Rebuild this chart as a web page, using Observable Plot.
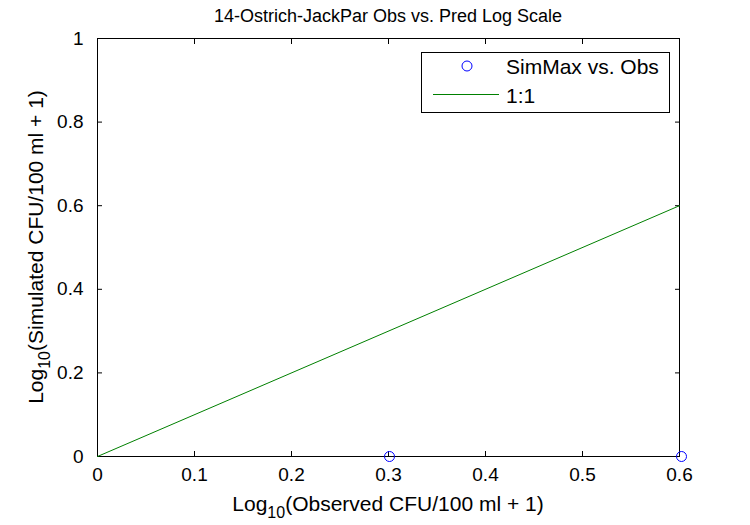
<!DOCTYPE html>
<html><head><meta charset="utf-8">
<script src="https://cdn.jsdelivr.net/npm/d3@7"></script>
<script src="https://cdn.jsdelivr.net/npm/@observablehq/plot@0.6"></script>
<style>
body{margin:0;background:#fff;font-family:"Liberation Sans",Arial,sans-serif;}
#wrap{position:relative;width:750px;height:525px;}
</style></head><body>
<div id="wrap"></div>
<script>
const title = "14-Ostrich-JackPar Obs vs. Pred Log Scale";
const xTicks = [0, 0.1, 0.2, 0.3, 0.4, 0.5, 0.6];
const yTicks = [0, 0.2, 0.4, 0.6, 0.8, 1];
const obs = [0.30103, 0.60206];
const sim = [0, 0];
const oneToOneX = [0, 0.6];
const oneToOneY = [0, 0.6];
const legendLabels = ["SimMax vs. Obs", "1:1"];

const pts = obs.map((o, i) => ({x: o, y: sim[i]}));
const line = oneToOneX.map((v, i) => ({x: v, y: oneToOneY[i]}));

const W = 750, H = 525, mL = 97, mR = 71, mT = 38, mB = 69;
const fmt = d => d === 0 ? "0" : (d === 1 ? "1" : String(d));
const ff = '"Liberation Sans", Arial, sans-serif';

const chart = Plot.plot({
  width: W, height: H,
  marginLeft: mL, marginRight: mR, marginTop: mT, marginBottom: mB,
  style: {fontFamily: ff, fontSize: "19px", background: "#fff", color: "#000"},
  x: {domain: [0, 0.6], label: null},
  y: {domain: [0, 1], label: null},
  marks: [
    Plot.frame({stroke: "#000", strokeWidth: 1}),
    Plot.axisX({anchor: "bottom", ticks: xTicks, tickSize: -5, tickPadding: 16, tickFormat: fmt, label: null, fontSize: 19}),
    Plot.axisX({anchor: "top", ticks: xTicks, tickSize: -5, text: null, label: null}),
    Plot.axisY({anchor: "left", ticks: yTicks, tickSize: -5, tickPadding: 19, tickFormat: fmt, label: null, fontSize: 19}),
    Plot.axisY({anchor: "right", ticks: yTicks, tickSize: -5, text: null, label: null}),
    Plot.line(line, {x: "x", y: "y", stroke: "#008000", strokeWidth: 1}),
    Plot.dot(pts, {x: "x", y: "y", r: 5, stroke: "#0000ff", fill: "none", strokeWidth: 1, clip: false})
  ]
});
document.getElementById("wrap").appendChild(chart);

const svg = d3.select(chart);
svg.selectAll("text").attr("font-size", 19).style("font-size", "19px").style("font-family", ff);

svg.append("text").attr("x", (mL + W - mR) / 2).attr("y", 22).attr("text-anchor", "middle")
  .attr("font-size", 18).attr("font-family", ff).attr("fill", "#000").text(title);

function subLabel(g, pre, sub, post) {
  g.append("tspan").text(pre);
  g.append("tspan").attr("font-size", 16).attr("dy", 7).text(sub);
  g.append("tspan").attr("dy", -7).text(post);
}
const xl = svg.append("text").attr("x", (mL + W - mR) / 2).attr("y", 511).attr("text-anchor", "middle")
  .attr("font-size", 21).attr("font-family", ff).attr("fill", "#000");
subLabel(xl, "Log", "10", "(Observed CFU/100 ml + 1)");
const yl = svg.append("text").attr("transform", `translate(43,${(mT + H - mB) / 2}) rotate(-90)`).attr("text-anchor", "middle")
  .attr("font-size", 21).attr("font-family", ff).attr("fill", "#000");
subLabel(yl, "Log", "10", "(Simulated CFU/100 ml + 1)");

const lg = svg.append("g");
lg.append("rect").attr("x", 421.5).attr("y", 52.5).attr("width", 248).attr("height", 60)
  .attr("fill", "#fff").attr("stroke", "#000");
lg.append("circle").attr("cx", 467).attr("cy", 66).attr("r", 5).attr("fill", "none").attr("stroke", "#0000ff");
lg.append("line").attr("x1", 433).attr("x2", 499).attr("y1", 94.5).attr("y2", 94.5).attr("stroke", "#008000");
lg.append("text").attr("x", 506).attr("y", 74).attr("text-anchor", "start").attr("font-size", 21).attr("font-family", ff).attr("fill", "#000").text(legendLabels[0]);
lg.append("text").attr("x", 506).attr("y", 103).attr("text-anchor", "start").attr("font-size", 21).attr("font-family", ff).attr("fill", "#000").text(legendLabels[1]);
</script>
</body></html>
